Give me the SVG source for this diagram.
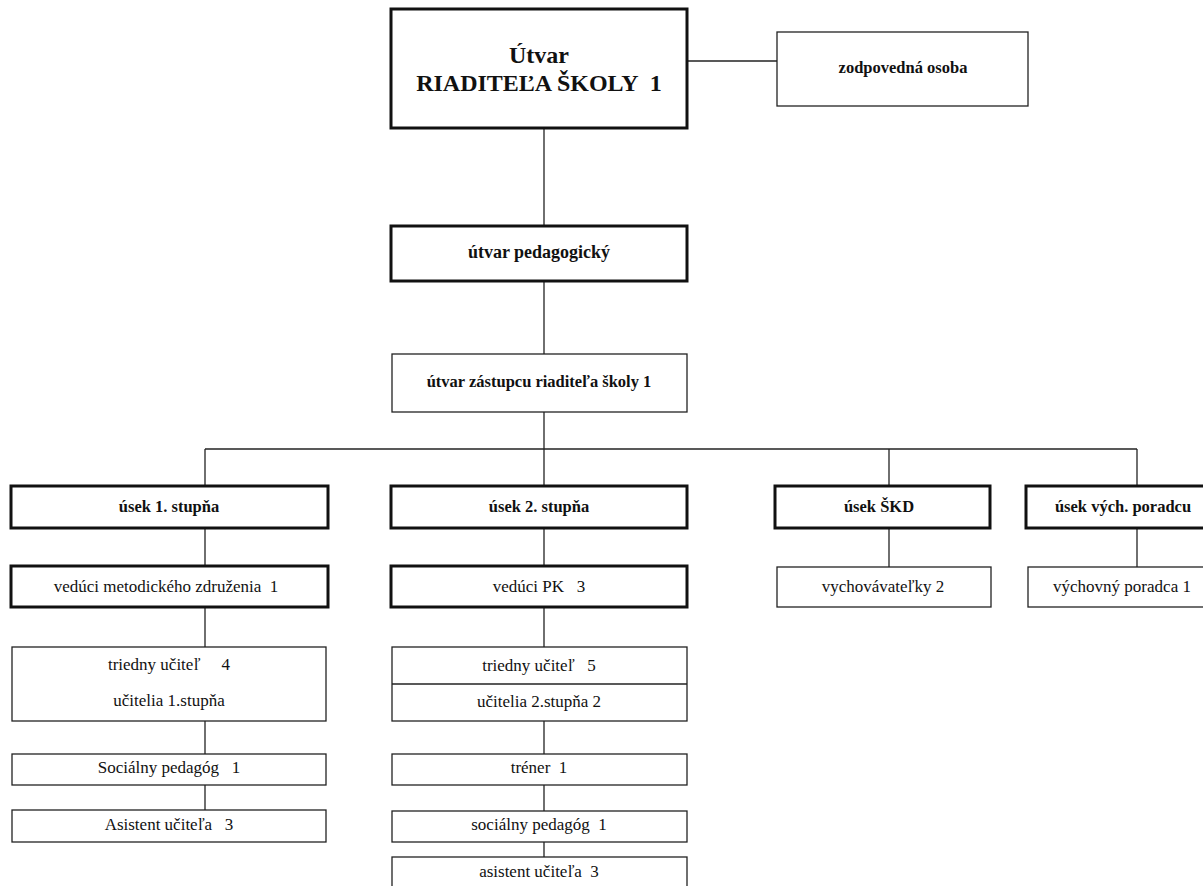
<svg xmlns="http://www.w3.org/2000/svg" width="1203" height="886" viewBox="0 0 1203 886">
<style>
.bg{fill:#ffffff}
.thick{fill:#ffffff;stroke:#111;stroke-width:3}
.thin{fill:#ffffff;stroke:#222;stroke-width:1.3}
.conn{fill:none;stroke:#222;stroke-width:1.3}
text{font-family:"Liberation Serif","Times New Roman",serif;fill:#111;text-anchor:middle;white-space:pre}
.b{font-weight:bold;font-size:16.5px}
.r{font-size:17px}
.big{font-weight:bold;font-size:24px}
</style>
<rect class="bg" x="0" y="0" width="1203" height="886"/>
<g id="connectors">
<path class="conn" d="M687 61 H777"/>
<path class="conn" d="M544 128 V226"/>
<path class="conn" d="M544 281 V354"/>
<path class="conn" d="M544 412 V449"/>
<path class="conn" d="M205 449 H1137"/>
<path class="conn" d="M205 449 V486"/>
<path class="conn" d="M544 449 V486"/>
<path class="conn" d="M889 449 V486"/>
<path class="conn" d="M1137 449 V486"/>
<path class="conn" d="M205 528 V566"/>
<path class="conn" d="M544 528 V566"/>
<path class="conn" d="M889 528 V567"/>
<path class="conn" d="M1137 528 V567"/>
<path class="conn" d="M205 607 V647"/>
<path class="conn" d="M544 607 V647"/>
<path class="conn" d="M205 721 V754"/>
<path class="conn" d="M544 721 V754"/>
<path class="conn" d="M205 785 V811"/>
<path class="conn" d="M544 785 V811"/>
<path class="conn" d="M544 842 V857"/>
</g>
<g id="riaditel">
<rect class="thick" x="391" y="9" width="296" height="119"/>
<text class="big" x="539" y="63">Útvar</text>
<text class="big" x="539" y="91">RIADITEĽA ŠKOLY  1</text>
</g>
<g id="zodpovedna">
<rect class="thin" x="777" y="32" width="251" height="74"/>
<text class="b" x="903" y="73">zodpovedná osoba</text>
</g>
<g id="pedagogicky">
<rect class="thick" x="391" y="226" width="296" height="55"/>
<text class="b" x="539" y="258" style="font-size:18px">útvar pedagogický</text>
</g>
<g id="zastupca">
<rect class="thin" x="392" y="354" width="295" height="58"/>
<text class="b" x="539" y="387">útvar zástupcu riaditeľa školy 1</text>
</g>
<g id="usek1">
<rect class="thick" x="11" y="486" width="317" height="42"/>
<text class="b" x="169" y="512">úsek 1. stupňa</text>
</g>
<g id="usek2">
<rect class="thick" x="391" y="486" width="296" height="42"/>
<text class="b" x="539" y="512">úsek 2. stupňa</text>
</g>
<g id="usekSKD">
<rect class="thick" x="775" y="486" width="215" height="42"/>
<text class="b" x="879" y="512">úsek ŠKD</text>
</g>
<g id="usekVP">
<rect class="thick" x="1026" y="486" width="190" height="42"/>
<text class="b" x="1123" y="512">úsek vých. poradcu</text>
</g>
<g id="veduciMZ">
<rect class="thick" x="11" y="566" width="317" height="41"/>
<text class="r" x="166" y="592">vedúci metodického združenia  1</text>
</g>
<g id="veduciPK">
<rect class="thick" x="391" y="566" width="296" height="41"/>
<text class="r" x="539" y="592">vedúci PK   3</text>
</g>
<g id="vychovavatelky">
<rect class="thin" x="777" y="567" width="214" height="40"/>
<text class="r" x="883" y="592">vychovávateľky 2</text>
</g>
<g id="vychovnyPoradca">
<rect class="thin" x="1028" y="567" width="190" height="40"/>
<text class="r" x="1122" y="592">výchovný poradca 1</text>
</g>
<g id="triedny1">
<rect class="thin" x="12" y="647" width="314" height="74"/>
<text class="r" x="169" y="670">triedny učiteľ     4</text>
<text class="r" x="169" y="706">učitelia 1.stupňa</text>
</g>
<g id="triedny2">
<rect class="thin" x="392" y="647" width="295" height="74"/>
<path class="conn" d="M392 684 H687"/>
<text class="r" x="539" y="671">triedny učiteľ   5</text>
<text class="r" x="539" y="707">učitelia 2.stupňa 2</text>
</g>
<g id="socialny1">
<rect class="thin" x="12" y="754" width="314" height="31"/>
<text class="r" x="169" y="773">Sociálny pedagóg   1</text>
</g>
<g id="asistent1">
<rect class="thin" x="12" y="810" width="314" height="32"/>
<text class="r" x="169" y="830">Asistent učiteľa   3</text>
</g>
<g id="trener">
<rect class="thin" x="392" y="754" width="295" height="31"/>
<text class="r" x="539" y="773">tréner  1</text>
</g>
<g id="socialny2">
<rect class="thin" x="392" y="811" width="295" height="31"/>
<text class="r" x="539" y="830">sociálny pedagóg  1</text>
</g>
<g id="asistent2">
<rect class="thin" x="392" y="857" width="295" height="40"/>
<text class="r" x="539" y="877">asistent učiteľa  3</text>
</g>
</svg>
